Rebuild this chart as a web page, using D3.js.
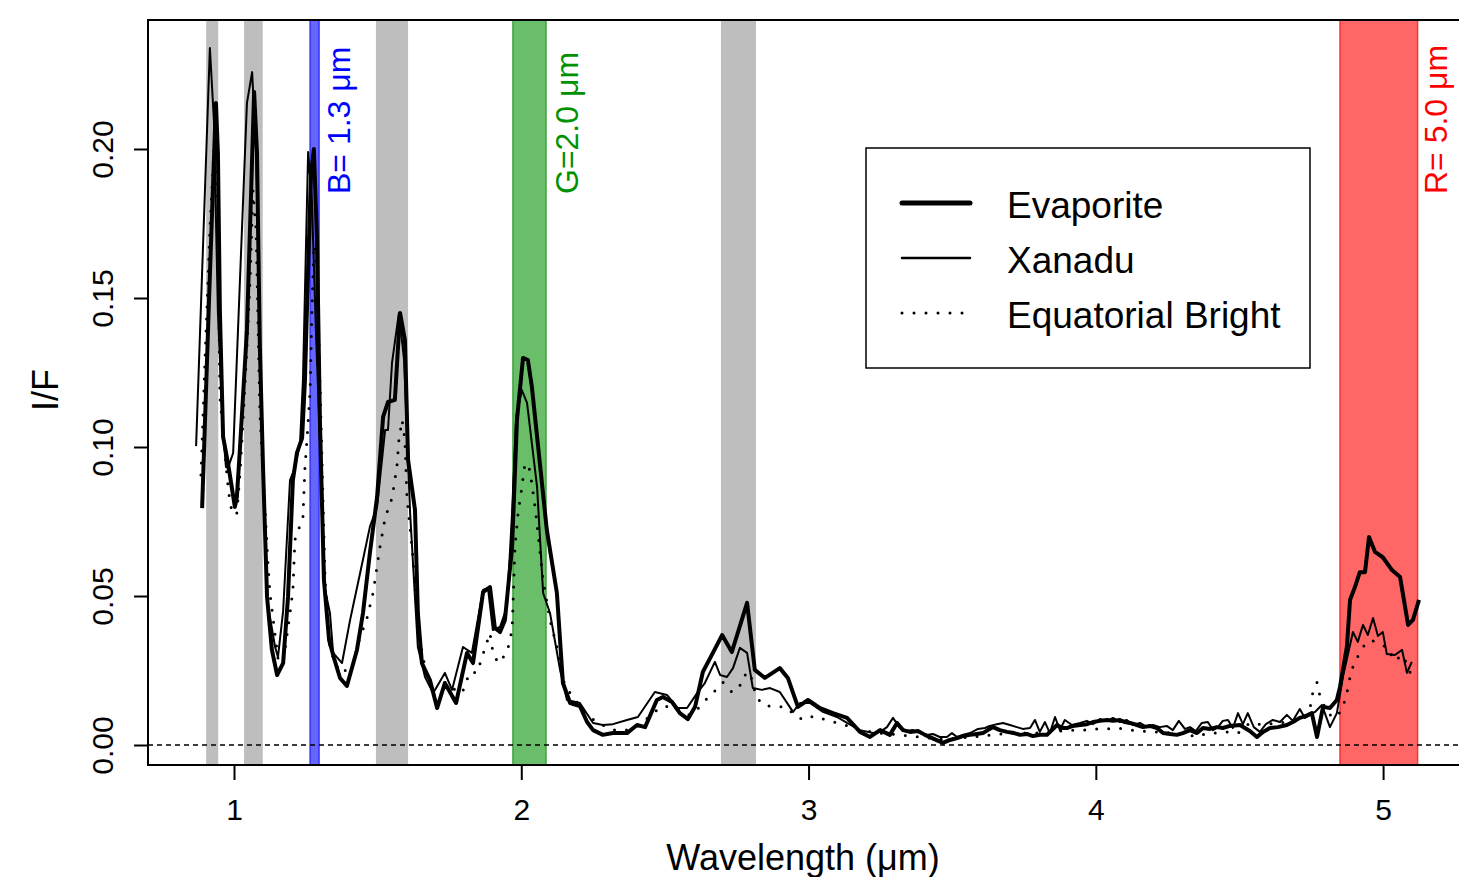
<!DOCTYPE html>
<html lang="en">
<head>
  <meta charset="UTF-8">
  <title>I/F spectra</title>
  <script src="https://d3js.org/d3.v7.min.js"></script>
  <style>
    body { margin: 0; background: #fff; overflow: hidden; }
    svg text { font-family: "Liberation Sans", Arial, sans-serif; }
  </style>
</head>
<body>
  <svg id="chart" width="1459" height="877"></svg>

  <script>
    // window bands (um): [start, end, fill, stroke]
    const bands = [
      [0.903, 0.945, "#bebebe", "none"],
      [1.035, 1.100, "#bebebe", "none"],
      [1.265, 1.296, "#6666ff", "#3333ff"],
      [1.494, 1.606, "#bebebe", "none"],
      [1.971, 2.086, "#6abe6a", "#3ba53b"],
      [2.695, 2.817, "#bebebe", "none"],
      [4.850, 5.120, "#ff6666", "#ff3333"]
    ];
    const bandLabels = ["B= 1.3 \u03bcm", "G=2.0 \u03bcm", "R= 5.0 \u03bcm"];
    const bandLabelPos = [1.404, 2.199, 5.222];
    const bandLabelColors = ["#0000ff", "#009100", "#ff0000"];

    const xTicks = [1, 2, 3, 4, 5];
    const yTicks = [0, 0.05, 0.10, 0.15, 0.20];

    // Evaporite
    const evapWl = [0.889, 0.913, 0.937, 0.944, 0.951, 0.962, 0.979, 1.003, 1.010, 1.021, 1.045, 1.070, 1.080, 1.090, 1.101, 1.115, 1.132, 1.150, 1.171, 1.188, 1.205, 1.219, 1.237, 1.247, 1.258, 1.268, 1.278, 1.289, 1.299, 1.313, 1.331, 1.348, 1.369, 1.393, 1.428, 1.449, 1.473, 1.498, 1.519, 1.536, 1.560, 1.578, 1.595, 1.606, 1.630, 1.640, 1.654, 1.682, 1.707, 1.734, 1.773, 1.811, 1.832, 1.867, 1.891, 1.908, 1.926, 1.943, 1.968, 1.985, 2.006, 2.023, 2.037, 2.089, 2.124, 2.145, 2.170, 2.204, 2.229, 2.250, 2.284, 2.319, 2.368, 2.403, 2.431, 2.472, 2.493, 2.525, 2.552, 2.580, 2.605, 2.632, 2.667, 2.699, 2.733, 2.786, 2.813, 2.848, 2.900, 2.928, 2.963, 2.998, 3.040, 3.085, 3.134, 3.179, 3.214, 3.249, 3.283, 3.308, 3.329, 3.353, 3.381, 3.405, 3.430, 3.468, 3.492, 3.517, 3.537, 3.562, 3.586, 3.607, 3.624, 3.642, 3.666, 3.691, 3.715, 3.736, 3.760, 3.781, 3.805, 3.830, 3.847, 3.865, 3.882, 3.899, 3.920, 3.945, 3.969, 3.990, 4.014, 4.039, 4.060, 4.084, 4.101, 4.119, 4.143, 4.164, 4.188, 4.213, 4.234, 4.258, 4.282, 4.303, 4.328, 4.352, 4.373, 4.397, 4.422, 4.442, 4.467, 4.502, 4.536, 4.561, 4.582, 4.606, 4.634, 4.665, 4.686, 4.710, 4.731, 4.752, 4.770, 4.791, 4.815, 4.839, 4.850, 4.874, 4.885, 4.902, 4.919, 4.937, 4.951, 4.972, 4.999, 5.031, 5.059, 5.087, 5.104, 5.125];
    const evapIF = [0.0795, 0.1493, 0.2154, 0.1987, 0.1450, 0.1034, 0.0946, 0.0799, 0.0832, 0.1000, 0.1393, 0.2191, 0.1987, 0.1336, 0.0933, 0.0497, 0.0319, 0.0235, 0.0275, 0.0497, 0.0889, 0.0980, 0.1030, 0.1225, 0.1600, 0.1913, 0.2000, 0.1695, 0.1091, 0.0554, 0.0352, 0.0292, 0.0225, 0.0198, 0.0319, 0.0443, 0.0644, 0.0832, 0.1101, 0.1151, 0.1158, 0.1450, 0.1359, 0.0956, 0.0789, 0.0443, 0.0275, 0.0218, 0.0124, 0.0208, 0.0141, 0.0309, 0.0275, 0.0513, 0.0530, 0.0393, 0.0379, 0.0419, 0.0664, 0.1091, 0.1299, 0.1292, 0.1201, 0.0721, 0.0510, 0.0208, 0.0141, 0.0131, 0.0077, 0.0050, 0.0034, 0.0040, 0.0040, 0.0067, 0.0060, 0.0151, 0.0161, 0.0144, 0.0107, 0.0087, 0.0128, 0.0245, 0.0309, 0.0369, 0.0312, 0.0477, 0.0252, 0.0225, 0.0258, 0.0225, 0.0128, 0.0151, 0.0124, 0.0107, 0.0091, 0.0044, 0.0027, 0.0050, 0.0034, 0.0074, 0.0050, 0.0044, 0.0047, 0.0034, 0.0023, 0.0007, 0.0017, 0.0023, 0.0030, 0.0034, 0.0037, 0.0040, 0.0050, 0.0060, 0.0050, 0.0044, 0.0040, 0.0034, 0.0037, 0.0030, 0.0034, 0.0034, 0.0050, 0.0067, 0.0057, 0.0057, 0.0064, 0.0067, 0.0070, 0.0077, 0.0081, 0.0084, 0.0081, 0.0084, 0.0077, 0.0074, 0.0067, 0.0060, 0.0064, 0.0057, 0.0040, 0.0037, 0.0034, 0.0040, 0.0050, 0.0040, 0.0057, 0.0054, 0.0060, 0.0057, 0.0064, 0.0067, 0.0047, 0.0027, 0.0044, 0.0057, 0.0060, 0.0067, 0.0077, 0.0091, 0.0097, 0.0107, 0.0027, 0.0128, 0.0124, 0.0151, 0.0195, 0.0330, 0.0487, 0.0530, 0.0580, 0.0580, 0.0698, 0.0648, 0.0630, 0.0587, 0.0564, 0.0403, 0.0420, 0.0487];

    // Xanadu
    const xanWl = [0.868, 0.916, 0.930, 0.944, 0.962, 0.972, 0.979, 0.997, 1.045, 1.063, 1.077, 1.090, 1.101, 1.115, 1.143, 1.153, 1.171, 1.195, 1.212, 1.230, 1.240, 1.258, 1.271, 1.285, 1.299, 1.317, 1.334, 1.345, 1.376, 1.404, 1.439, 1.473, 1.498, 1.526, 1.536, 1.550, 1.574, 1.592, 1.613, 1.640, 1.665, 1.693, 1.734, 1.759, 1.797, 1.828, 1.867, 1.884, 1.901, 1.926, 1.950, 1.968, 1.982, 2.002, 2.020, 2.055, 2.076, 2.100, 2.135, 2.159, 2.204, 2.250, 2.284, 2.319, 2.368, 2.406, 2.465, 2.507, 2.545, 2.577, 2.612, 2.639, 2.674, 2.692, 2.716, 2.737, 2.761, 2.786, 2.806, 2.838, 2.866, 2.900, 2.946, 2.970, 3.005, 3.050, 3.099, 3.134, 3.179, 3.224, 3.249, 3.273, 3.294, 3.318, 3.342, 3.363, 3.388, 3.412, 3.433, 3.457, 3.482, 3.499, 3.517, 3.537, 3.562, 3.590, 3.614, 3.631, 3.656, 3.677, 3.701, 3.725, 3.746, 3.771, 3.788, 3.805, 3.823, 3.840, 3.858, 3.875, 3.892, 3.917, 3.945, 3.969, 3.990, 4.014, 4.039, 4.060, 4.084, 4.108, 4.129, 4.154, 4.178, 4.199, 4.223, 4.247, 4.268, 4.289, 4.310, 4.328, 4.348, 4.369, 4.390, 4.408, 4.425, 4.442, 4.460, 4.477, 4.495, 4.512, 4.529, 4.550, 4.571, 4.592, 4.616, 4.641, 4.665, 4.686, 4.710, 4.728, 4.745, 4.763, 4.787, 4.815, 4.839, 4.860, 4.895, 4.912, 4.930, 4.947, 4.965, 4.982, 4.999, 5.013, 5.041, 5.066, 5.083, 5.100];
    const xanIF = [0.1003, 0.2339, 0.2097, 0.1450, 0.1047, 0.0933, 0.0930, 0.0980, 0.2154, 0.2258, 0.1997, 0.1359, 0.0956, 0.0487, 0.0329, 0.0295, 0.0450, 0.0889, 0.0930, 0.1017, 0.1225, 0.1990, 0.1829, 0.1393, 0.1023, 0.0520, 0.0443, 0.0309, 0.0275, 0.0419, 0.0577, 0.0732, 0.0799, 0.1057, 0.1057, 0.1282, 0.1450, 0.1292, 0.0779, 0.0329, 0.0228, 0.0174, 0.0242, 0.0185, 0.0329, 0.0309, 0.0520, 0.0527, 0.0386, 0.0396, 0.0463, 0.0779, 0.1101, 0.1191, 0.1148, 0.0866, 0.0510, 0.0443, 0.0252, 0.0151, 0.0141, 0.0074, 0.0067, 0.0070, 0.0084, 0.0094, 0.0178, 0.0168, 0.0124, 0.0124, 0.0174, 0.0208, 0.0279, 0.0235, 0.0228, 0.0258, 0.0326, 0.0309, 0.0191, 0.0185, 0.0191, 0.0178, 0.0111, 0.0141, 0.0141, 0.0111, 0.0094, 0.0074, 0.0050, 0.0040, 0.0044, 0.0060, 0.0091, 0.0057, 0.0047, 0.0050, 0.0040, 0.0034, 0.0037, 0.0027, 0.0027, 0.0040, 0.0027, 0.0034, 0.0040, 0.0054, 0.0057, 0.0064, 0.0070, 0.0074, 0.0067, 0.0060, 0.0054, 0.0057, 0.0084, 0.0044, 0.0077, 0.0040, 0.0094, 0.0050, 0.0084, 0.0067, 0.0074, 0.0081, 0.0070, 0.0087, 0.0081, 0.0091, 0.0077, 0.0084, 0.0067, 0.0074, 0.0060, 0.0067, 0.0060, 0.0064, 0.0050, 0.0081, 0.0054, 0.0060, 0.0047, 0.0074, 0.0077, 0.0050, 0.0060, 0.0081, 0.0084, 0.0057, 0.0107, 0.0070, 0.0107, 0.0060, 0.0044, 0.0070, 0.0084, 0.0077, 0.0101, 0.0081, 0.0121, 0.0091, 0.0101, 0.0111, 0.0134, 0.0060, 0.0107, 0.0228, 0.0379, 0.0346, 0.0403, 0.0369, 0.0426, 0.0366, 0.0379, 0.0305, 0.0302, 0.0319, 0.0242, 0.0279];

    // Equatorial Bright
    const eqbWl = [0.885, 0.899, 0.916, 0.930, 0.941, 0.951, 0.976, 0.986, 0.997, 1.010, 1.021, 1.031, 1.045, 1.056, 1.066, 1.077, 1.090, 1.118, 1.125, 1.153, 1.171, 1.195, 1.205, 1.212, 1.240, 1.247, 1.254, 1.265, 1.271, 1.278, 1.289, 1.299, 1.317, 1.334, 1.369, 1.414, 1.432, 1.463, 1.484, 1.508, 1.526, 1.550, 1.567, 1.574, 1.585, 1.595, 1.602, 1.623, 1.640, 1.672, 1.700, 1.727, 1.759, 1.794, 1.821, 1.846, 1.874, 1.891, 1.901, 1.919, 1.950, 1.968, 1.978, 1.989, 2.002, 2.013, 2.030, 2.048, 2.058, 2.076, 2.100, 2.124, 2.145, 2.170, 2.222, 2.263, 2.319, 2.368, 2.413, 2.458, 2.493, 2.528, 2.587, 2.622, 2.650, 2.681, 2.702, 2.733, 2.758, 2.772, 2.796, 2.817, 2.841, 2.880, 2.921, 2.953, 2.981, 3.019, 3.061, 3.099, 3.137, 3.179, 3.249, 3.318, 3.388, 3.457, 3.527, 3.597, 3.666, 3.736, 3.805, 3.875, 3.927, 3.969, 4.004, 4.039, 4.077, 4.119, 4.157, 4.199, 4.268, 4.310, 4.352, 4.387, 4.425, 4.460, 4.495, 4.536, 4.589, 4.634, 4.669, 4.721, 4.745, 4.756, 4.770, 4.780, 4.805, 4.825, 4.840, 4.860, 4.874, 4.881, 4.892, 4.909, 4.930, 4.954, 4.989, 5.020, 5.038, 5.069, 5.104];
    const eqbIF = [0.0906, 0.1290, 0.1730, 0.1997, 0.1960, 0.1168, 0.0899, 0.0812, 0.0772, 0.0779, 0.0913, 0.1080, 0.1336, 0.1560, 0.1862, 0.1728, 0.1114, 0.0611, 0.0510, 0.0292, 0.0275, 0.0443, 0.0520, 0.0688, 0.0765, 0.0933, 0.1023, 0.1190, 0.1450, 0.1678, 0.1610, 0.1225, 0.0554, 0.0319, 0.0242, 0.0262, 0.0342, 0.0426, 0.0510, 0.0664, 0.0762, 0.0829, 0.0933, 0.1023, 0.1091, 0.1023, 0.0832, 0.0631, 0.0386, 0.0225, 0.0161, 0.0185, 0.0191, 0.0174, 0.0245, 0.0242, 0.0326, 0.0376, 0.0312, 0.0275, 0.0309, 0.0386, 0.0664, 0.0779, 0.0866, 0.0946, 0.0923, 0.0799, 0.0711, 0.0554, 0.0419, 0.0329, 0.0218, 0.0174, 0.0107, 0.0077, 0.0050, 0.0050, 0.0067, 0.0107, 0.0130, 0.0128, 0.0100, 0.0128, 0.0160, 0.0188, 0.0210, 0.0178, 0.0190, 0.0230, 0.0245, 0.0164, 0.0134, 0.0128, 0.0128, 0.0100, 0.0084, 0.0097, 0.0084, 0.0074, 0.0064, 0.0050, 0.0040, 0.0034, 0.0027, 0.0020, 0.0023, 0.0030, 0.0037, 0.0040, 0.0040, 0.0047, 0.0050, 0.0050, 0.0054, 0.0054, 0.0057, 0.0050, 0.0047, 0.0044, 0.0040, 0.0037, 0.0027, 0.0040, 0.0040, 0.0044, 0.0040, 0.0074, 0.0067, 0.0077, 0.0074, 0.0090, 0.0120, 0.0180, 0.0210, 0.0165, 0.0110, 0.0094, 0.0094, 0.0128, 0.0174, 0.0211, 0.0255, 0.0292, 0.0329, 0.0352, 0.0342, 0.0322, 0.0282, 0.0302, 0.0221];

    const seriesNames = ["Evaporite", "Xanadu", "Equatorial Bright"];

    const svg = d3.select("#chart");
    const plot = { left: 148, right: 1466, top: 20, bottom: 765 };

    const x = d3.scaleLinear().domain([0.7006, 5.2886]).range([plot.left, plot.right]);
    const y = d3.scaleLinear().domain([-0.00671, 0.24329]).range([plot.bottom, plot.top]);

    // shaded windows
    svg.append("g")
      .selectAll("rect")
      .data(bands)
      .join("rect")
      .attr("x", d => x(d[0]))
      .attr("y", plot.top)
      .attr("width", d => x(d[1]) - x(d[0]))
      .attr("height", plot.bottom - plot.top)
      .attr("fill", d => d[2])
      .attr("stroke", d => d[3])
      .attr("stroke-width", 1.5);

    // zero line
    svg.append("line")
      .attr("x1", plot.left).attr("x2", plot.right)
      .attr("y1", y(0)).attr("y2", y(0))
      .attr("stroke", "#000").attr("stroke-width", 1.6)
      .attr("stroke-dasharray", "5 4");

    const line = d3.line().x(d => x(d[0])).y(d => y(d[1]));

    svg.append("path")
      .datum(d3.zip(eqbWl, eqbIF))
      .attr("d", line)
      .attr("fill", "none").attr("stroke", "#000")
      .attr("stroke-width", 3).attr("stroke-linecap", "round")
      .attr("stroke-dasharray", "0 12");

    svg.append("path")
      .datum(d3.zip(xanWl, xanIF))
      .attr("d", line)
      .attr("fill", "none").attr("stroke", "#000")
      .attr("stroke-width", 2).attr("stroke-linejoin", "round");

    svg.append("path")
      .datum(d3.zip(evapWl, evapIF))
      .attr("d", line)
      .attr("fill", "none").attr("stroke", "#000")
      .attr("stroke-width", 4).attr("stroke-linejoin", "round");

    // band labels, rotated (baseline on the right of the glyphs)
    svg.append("g")
      .selectAll("text")
      .data(bandLabels)
      .join("text")
      .attr("transform", (d, i) => `translate(${x(bandLabelPos[i])},194) rotate(-90)`)
      .attr("fill", (d, i) => bandLabelColors[i])
      .style("font-size", "32px")
      .text(d => d);

    // frame
    svg.append("rect")
      .attr("x", plot.left).attr("y", plot.top)
      .attr("width", plot.right - plot.left).attr("height", plot.bottom - plot.top)
      .attr("fill", "none").attr("stroke", "#000").attr("stroke-width", 2);

    // x axis
    const xAxis = svg.append("g")
      .attr("transform", `translate(0,${plot.bottom})`)
      .call(d3.axisBottom(x).tickValues(xTicks).tickSize(15).tickFormat(d3.format("d")));
    xAxis.select(".domain").remove();
    xAxis.selectAll(".tick line").attr("stroke-width", 2);
    xAxis.selectAll(".tick text")
      .attr("y", 55).attr("dy", 0)
      .style("font-size", "30px")
      .attr("fill", "#000");

    // y axis
    const yAxis = svg.append("g")
      .attr("transform", `translate(${plot.left},0)`)
      .call(d3.axisLeft(y).tickValues(yTicks).tickSize(14).tickFormat(d3.format(".2f")));
    yAxis.select(".domain").remove();
    yAxis.selectAll(".tick line").attr("stroke-width", 2);
    yAxis.selectAll(".tick text")
      .attr("x", 0).attr("y", -35).attr("dy", 0)
      .attr("transform", "rotate(-90)")
      .attr("text-anchor", "middle")
      .style("font-size", "30px")
      .attr("fill", "#000");

    // axis titles
    svg.append("text")
      .attr("x", 803).attr("y", 870)
      .attr("text-anchor", "middle")
      .style("font-size", "36px")
      .text("Wavelength (\u03bcm)");

    svg.append("text")
      .attr("transform", "translate(58,390) rotate(-90)")
      .attr("text-anchor", "middle")
      .style("font-size", "36px")
      .text("I/F");

    // legend
    const legend = svg.append("g");
    legend.append("rect")
      .attr("x", 866).attr("y", 148)
      .attr("width", 444).attr("height", 220)
      .attr("fill", "#fff").attr("stroke", "#000").attr("stroke-width", 1.5);

    const legendY = [203, 258, 313];
    const legendStyle = [
      { w: 5, dash: null },
      { w: 2.5, dash: null },
      { w: 3, dash: "0 12" }
    ];
    seriesNames.forEach((name, i) => {
      legend.append("line")
        .attr("x1", 902).attr("x2", 970)
        .attr("y1", legendY[i]).attr("y2", legendY[i])
        .attr("stroke", "#000")
        .attr("stroke-width", legendStyle[i].w)
        .attr("stroke-linecap", "round")
        .attr("stroke-dasharray", legendStyle[i].dash);
      legend.append("text")
        .attr("x", 1007).attr("y", legendY[i] + 15)
        .style("font-size", "37px")
        .text(name);
    });
  </script>
</body>
</html>
